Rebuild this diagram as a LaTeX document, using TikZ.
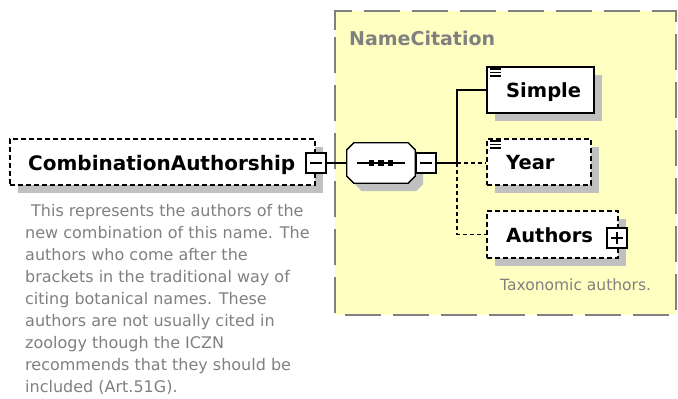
\documentclass[tikz,border=0pt]{standalone}
\usepackage{fontspec}
\setmainfont{DejaVu Sans}
\definecolor{grpfill}{RGB}{255,255,194}
\definecolor{shadowc}{RGB}{192,192,192}
\definecolor{txtgray}{RGB}{128,128,128}
\newcommand\myoctpath[1]{([xshift=7pt]#1.north west) -- ([xshift=-7pt]#1.north east) -- ([yshift=-7pt]#1.north east) -- ([yshift=7pt]#1.south east) -- ([xshift=-7pt]#1.south east) -- ([xshift=7pt]#1.south west) -- ([yshift=7pt]#1.south west) -- ([yshift=-7pt]#1.north west) -- cycle}
\begin{document}
\begin{tikzpicture}[x=1pt,y=-1pt]
\tikzset{
 elem/.style={draw=black, line width=1.3pt, fill=white, inner sep=0pt, rectangle},
 optelem/.style={elem, dash pattern=on 5pt off 3pt},
 etitle/.style={font=\fontsize{19.5}{22}\selectfont\bfseries, inner sep=0pt, anchor=base west},
 desc/.style={font=\fontsize{16}{22}\selectfont, text=txtgray, inner sep=0pt, anchor=base west},
 toggle/.style={draw=black, line width=1.1pt, fill=white, minimum size=20pt, inner sep=0pt, rectangle},
 conn/.style={line width=1.2pt},
 optconn/.style={conn, dash pattern=on 4pt off 3pt},
 octframe/.style={rectangle, draw=none, minimum width=68pt, minimum height=40pt, inner sep=0pt},
 grpborder/.style={draw=txtgray, line width=1.5pt, dash pattern=on 36pt off 12pt},
}
\useasboundingbox (0,0) rectangle (678,399);
% group box
\node[fill=grpfill, minimum width=341pt, minimum height=304pt, inner sep=0pt, rectangle] (group) at (505.5,163) {};
\draw[grpborder] ([yshift=-19pt]group.north west) -- (group.north west) -- (group.north east)
   -- (group.south east) -- (group.south west) -- cycle;
\node[font=\fontsize{19}{22}\selectfont\bfseries, text=txtgray, inner sep=0pt, anchor=base west] (grouplabel) at (349,45) {NameCitation};

% shadows
\fill[shadowc] (18,147) rectangle (323,193);
\fill[shadowc] (495,75) rectangle (602,121);
\fill[shadowc] (495,147) rectangle (599,193);
\fill[shadowc] (495,219) rectangle (626,266);
\node[octframe] (seqshadow) at (389,171) {};
\fill[shadowc] \myoctpath{seqshadow};

% main element
\node[optelem, minimum width=305pt, minimum height=46pt] (main) at (162.5,162) {};
\node[etitle, font=\fontsize{20}{22}\selectfont\bfseries] (mainT) at (28,170) {CombinationAuthorship};
\node[toggle] (mainminus) at (316,163) {};
\draw[line width=1.1pt] ([xshift=-6pt]mainminus.center) -- ([xshift=6pt]mainminus.center);

% sequence compositor
\node[octframe] (seq) at (381,163) {};
\draw[line width=1.3pt, fill=white] \myoctpath{seq};
\draw[line width=1.1pt] ([xshift=-24pt]seq.center) -- ([xshift=24pt]seq.center);
\foreach \dx in {-9.5,0,9.5}
  \fill[black] ([xshift=\dx pt-2.9pt, yshift=-2.9pt]seq.center) rectangle ([xshift=\dx pt+2.9pt, yshift=2.9pt]seq.center);
\node[toggle] (seqminus) at (426,163) {};
\draw[line width=1.1pt] ([xshift=-6pt]seqminus.center) -- ([xshift=6pt]seqminus.center);

% children
\node[elem, minimum width=107pt, minimum height=46pt] (simple) at (540.5,90) {};
\node[etitle] (simpleT) at (506,97.7) {Simple};
\node[optelem, minimum width=104pt, minimum height=46pt] (year) at (539,162) {};
\node[etitle] (yearT) at (506,169.7) {Year};
\node[optelem, minimum width=131pt, minimum height=47pt] (authors) at (552.5,234.5) {};
\node[etitle] (authorsT) at (506,242.5) {Authors};
\node[toggle] (authplus) at (617,238) {};
\draw[line width=1.1pt] ([xshift=-6pt]authplus.center) -- ([xshift=6pt]authplus.center)
      ([yshift=-6pt]authplus.center) -- ([yshift=6pt]authplus.center);
\node[desc, font=\fontsize{15.5}{22}\selectfont] (taxo) at (500,290) {Taxonomic authors.};

% simple-type icons
\foreach \yy in {69,72.5,76} \draw[line width=1.2pt] (490,\yy) -- (501,\yy);
\foreach \yy in {141,144.5,148} \draw[line width=1.2pt] (490,\yy) -- (501,\yy);

% connectors
\coordinate (J) at (457,163);
\draw[conn] (mainminus.east) -- (seq.west);
\draw[conn] (seqminus.east) -- (J);
\draw[conn] (J) |- (simple.west);
\draw[optconn] (J) -- (year.west |- J);
\draw[optconn] (J) |- (authors.west);

% description
\foreach \t [count=\i] in {This represents the authors of the,
  new combination of this name. The,
  authors who come after the,
  brackets in the traditional way of,
  citing botanical names. These,
  authors are not usually cited in,
  zoology though the ICZN,
  recommends that they should be,
  included (Art.51G).}
  \node[desc] (d\i) at ({\i==1 ? 31 : 25}, 216.5+22*\i-22) {\t};
\end{tikzpicture}
\end{document}
